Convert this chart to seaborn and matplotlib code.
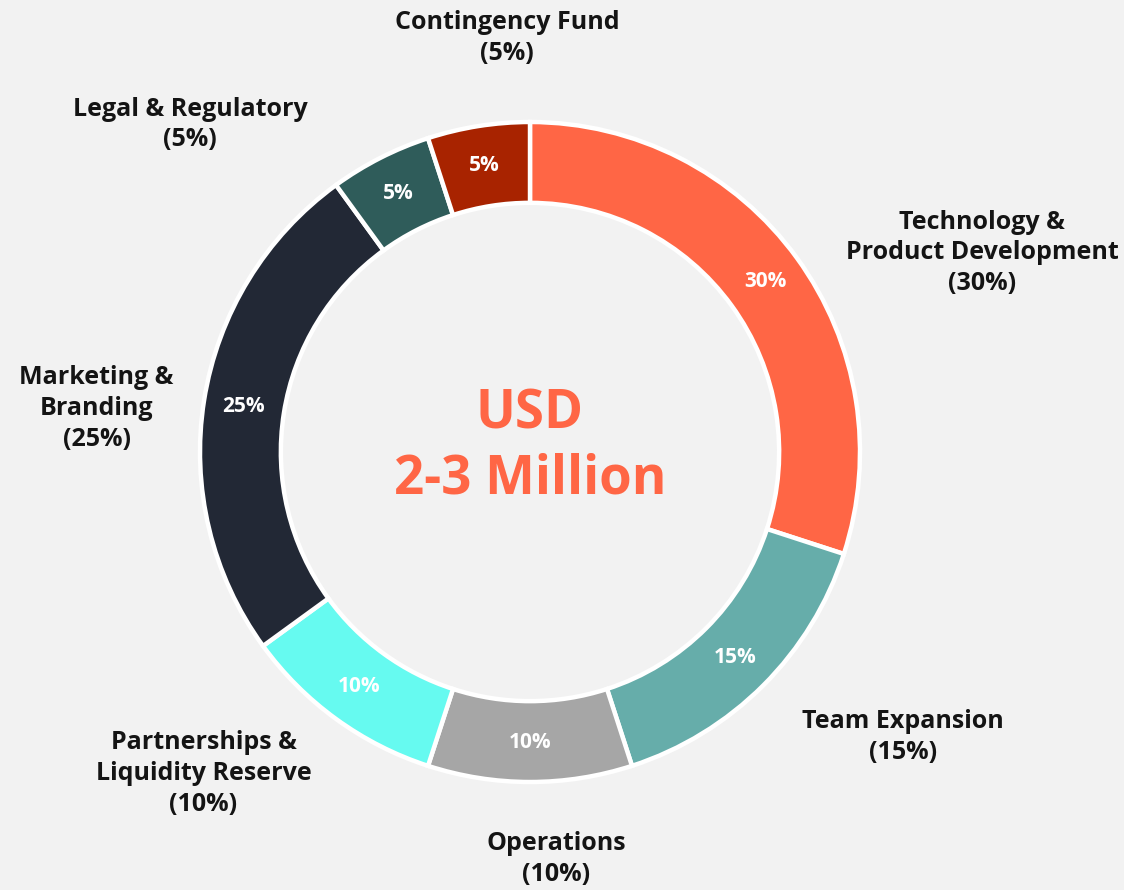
import matplotlib
matplotlib.use("Agg")
import matplotlib.pyplot as plt
import seaborn as sns

# budget split, clockwise from 12 o'clock
categories = ["Technology &\nProduct Development", "Team Expansion", "Operations",
              "Partnerships &\nLiquidity Reserve", "Marketing &\nBranding",
              "Legal & Regulatory", "Contingency Fund"]
shares = [30, 15, 10, 10, 25, 5, 5]
slice_colors = ["#FF6645", "#66ADAA", "#A6A6A6", "#66FAF0", "#222835", "#2F5C5A", "#A82300"]
center_text = "USD\n2-3 Million"

# outer label anchors (figure fraction), same order as categories
label_pos = [(0.874, 0.716), (0.803, 0.172), (0.495, 0.035), (0.181, 0.131),
             (0.086, 0.541), (0.169, 0.860), (0.451, 0.957)]

sns.set_theme(style="white", rc={"figure.facecolor": "#F2F2F2", "axes.facecolor": "#F2F2F2"})
plt.rcParams["font.family"] = ["Open Sans", "DejaVu Sans"]

palette = sns.color_palette(slice_colors)

fig = plt.figure(figsize=(11.24, 8.9), dpi=100)
ax = fig.add_axes([0, 0, 1, 1])
ax.set_facecolor("#F2F2F2")

wedges, _, pct = ax.pie(
    shares, colors=palette, startangle=90, counterclock=False, radius=1.0,
    autopct="%d%%", pctdistance=0.88,
    wedgeprops=dict(width=0.245, edgecolor="white", linewidth=3.2),
    textprops=dict(color="white", fontsize=15, fontweight="bold"),
)

# keep 330 px per data unit, centre at pixel (530, 452)
s = 330.0
ax.set_xlim(-530 / s, (1124 - 530) / s)
ax.set_ylim(-(890 - 452) / s, 452 / s)
ax.set_aspect("equal")
ax.axis("off")

ax.text(0, 0.015, center_text, ha="center", va="center", color="#FF6645",
        fontsize=38, fontweight="bold", linespacing=1.28)

for name, v, (x, y) in zip(categories, shares, label_pos):
    fig.text(x, y, f"{name}\n({v}%)", ha="center", va="center", color="#141414",
             fontsize=18, fontweight="bold", linespacing=1.3)

fig.savefig("out.png", dpi=100, facecolor=fig.get_facecolor())
